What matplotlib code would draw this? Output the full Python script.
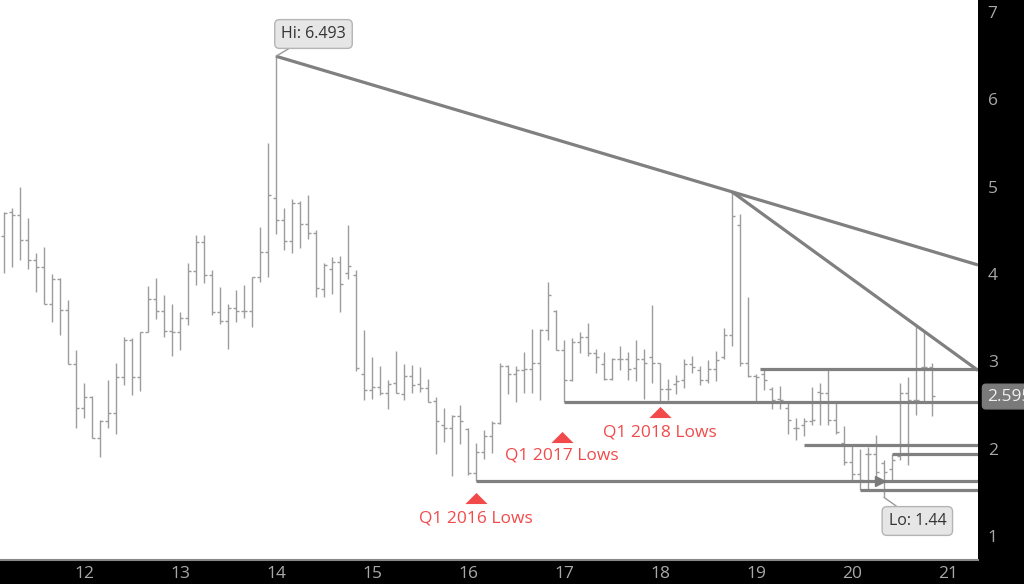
import numpy as np
import matplotlib
matplotlib.use("Agg")
import matplotlib.pyplot as plt
from matplotlib.path import Path

plt.rcParams['font.family'] = ['Open Sans', 'DejaVu Sans']

# Monthly OHLC bars, first bar = April 2011
opens = [4.43, 4.71, 4.67, 4.39, 4.16, 4.08, 3.66, 3.94, 3.59, 2.97,
         2.46, 2.59, 2.12, 2.31, 2.41, 2.82, 3.24, 2.82, 3.34, 3.71,
         3.58, 3.35, 3.34, 3.50, 4.03, 4.36, 3.99, 3.56, 3.46, 3.61,
         3.57, 3.58, 3.96, 4.25, 4.87, 4.62, 4.38, 4.81, 4.57, 4.47,
         3.83, 4.06, 4.14, 4.01, 3.99, 2.85, 2.67, 2.71, 2.64, 2.75,
         2.62, 2.83, 2.74, 2.69, 2.54, 2.27, 2.24, 2.37, 2.22, 1.72,
         1.96, 2.14, 2.29, 2.95, 2.85, 2.90, 2.91, 2.98, 3.36, 3.58,
         3.13, 2.78, 3.22, 3.28, 3.09, 2.97, 2.80, 3.03, 3.03, 2.92,
         3.03, 3.05, 2.98, 2.68, 2.74, 2.78, 2.97, 2.90, 2.79, 2.91,
         3.05, 3.30, 4.56, 2.98, 2.83, 2.85, 2.68, 2.57, 2.46, 2.24,
         2.27, 2.32, 2.65, 2.64, 2.33, 2.06, 1.85, 1.71, 1.94, 1.94,
         1.83, 1.76, 1.91, 2.64, 2.56, 2.93, 2.93]
highs = [4.71, 4.75, 5.00, 4.64, 4.24, 4.31, 4.00, 3.95, 3.70, 3.13,
         2.75, 2.60, 2.33, 2.78, 2.98, 3.28, 3.26, 3.34, 3.86, 3.95,
         3.76, 3.65, 3.56, 4.13, 4.45, 4.45, 4.05, 3.85, 3.66, 3.82,
         3.87, 3.97, 4.54, 5.50, 6.493, 4.75, 4.86, 4.84, 4.90, 4.50,
         4.12, 4.19, 4.20, 4.56, 4.04, 3.36, 3.05, 2.94, 2.78, 3.12,
         2.97, 2.96, 2.93, 2.80, 2.59, 2.46, 2.38, 2.50, 2.23, 2.06,
         2.21, 2.31, 2.98, 2.96, 2.95, 3.10, 3.37, 3.37, 3.91, 3.59,
         3.24, 3.26, 3.34, 3.44, 3.14, 3.11, 3.04, 3.17, 3.11, 3.24,
         3.14, 3.64, 2.98, 2.80, 2.84, 3.02, 3.06, 2.94, 3.01, 3.12,
         3.38, 4.94, 4.69, 3.74, 2.85, 2.91, 2.71, 2.72, 2.52, 2.35,
         2.35, 2.71, 2.75, 2.91, 2.52, 2.26, 2.03, 2.00, 2.02, 2.15,
         1.87, 1.94, 2.75, 2.82, 3.41, 3.36, 2.98]
lows = [4.01, 4.08, 4.16, 4.06, 3.79, 3.66, 3.45, 3.30, 2.97, 2.24,
        2.35, 2.12, 1.90, 2.24, 2.17, 2.73, 2.61, 2.66, 3.34, 3.48,
        3.28, 3.06, 3.13, 3.41, 3.87, 3.89, 3.53, 3.43, 3.14, 3.45,
        3.49, 3.39, 3.91, 3.96, 4.46, 4.27, 4.24, 4.30, 4.40, 3.74,
        3.73, 3.77, 3.56, 3.94, 2.89, 2.55, 2.57, 2.61, 2.45, 2.64,
        2.56, 2.64, 2.65, 2.53, 1.94, 2.07, 1.68, 2.05, 1.70, 1.63,
        1.88, 1.95, 2.28, 2.63, 2.53, 2.64, 2.64, 2.56, 3.24, 3.13,
        2.53, 2.77, 3.09, 3.06, 2.86, 2.78, 2.78, 2.90, 2.79, 2.77,
        2.57, 2.75, 2.53, 2.56, 2.63, 2.69, 2.87, 2.73, 2.75, 2.77,
        3.02, 3.17, 2.94, 2.82, 2.54, 2.67, 2.45, 2.45, 2.17, 2.10,
        2.14, 2.27, 2.27, 2.27, 2.17, 1.81, 1.64, 1.52, 1.54, 1.62,
        1.44, 1.62, 1.87, 1.81, 2.38, 2.54, 2.37]
closes = [4.70, 4.67, 4.39, 4.16, 4.08, 3.66, 3.94, 3.59, 2.97, 2.46,
          2.59, 2.12, 2.31, 2.41, 2.82, 3.24, 2.82, 3.34, 3.71, 3.58,
          3.35, 3.34, 3.50, 4.03, 4.36, 3.99, 3.56, 3.46, 3.61, 3.57,
          3.58, 3.96, 4.25, 4.90, 4.62, 4.38, 4.81, 4.57, 4.47, 3.84,
          4.10, 4.14, 3.88, 4.09, 2.92, 2.67, 2.71, 2.64, 2.74, 2.64,
          2.83, 2.73, 2.69, 2.53, 2.31, 2.24, 2.37, 2.31, 1.72, 1.96,
          2.14, 2.29, 2.95, 2.85, 2.90, 2.91, 2.98, 3.36, 3.76, 3.13,
          2.78, 3.22, 3.28, 3.09, 3.05, 2.80, 3.03, 3.03, 2.91, 3.03,
          2.98, 2.98, 2.68, 2.68, 2.77, 2.97, 2.93, 2.79, 2.91, 3.01,
          3.30, 4.66, 2.98, 2.83, 2.82, 2.78, 2.56, 2.56, 2.33, 2.23,
          2.32, 2.33, 2.64, 2.33, 2.19, 1.85, 1.71, 1.64, 1.94, 1.73,
          1.73, 1.87, 2.64, 2.56, 2.56, 2.93, 2.60]

first_year, first_month = 2011, 4
year_labels = ["12", "13", "14", "15", "16", "17", "18", "19", "20", "21"]
y_ticks = [1, 2, 3, 4, 5, 6, 7]
last_price = 2.595

# horizontal support lines: (start bar, level)
support_starts = [60, 71, 95.5, 101, 108, 112]
support_levels = [1.63, 2.53, 2.91, 2.04, 1.52, 1.94]
low_labels = ["Q1 2016 Lows", "Q1 2017 Lows", "Q1 2018 Lows"]

n = len(opens)
idx = np.arange(1, n + 1)

fig = plt.figure(figsize=(10.24, 5.84), dpi=100, facecolor='black')
ax = fig.add_axes([0, 24 / 584, 978 / 1024, 560 / 584])
ax.set_facecolor('white')
xmax = 122.75
ax.set_xlim(0.5, xmax)
ax.set_ylim(0.723, 7.137)

bar_c = '#9c9c9c'
ax.vlines(idx, lows, highs, color=bar_c, lw=1.0, zorder=2)
ax.hlines(opens, idx - 0.42, idx, color=bar_c, lw=1.0, zorder=2)
ax.hlines(closes, idx, idx + 0.42, color=bar_c, lw=1.0, zorder=2)

line_c = '#808080'
# trendlines
hi_i = int(np.argmax(highs)) + 1
p2_i = 92
p3_i = 115
for a, b in [(hi_i, p2_i), (p2_i, p3_i)]:
    ya, yb = highs[a - 1], highs[b - 1]
    slope = (yb - ya) / (b - a)
    ax.plot([a, xmax], [ya, ya + slope * (xmax - a)], color=line_c, lw=2.3,
            solid_capstyle='butt', zorder=3)

for s, lv in zip(support_starts, support_levels):
    ax.hlines(lv, s, xmax, color=line_c, lw=2.3, zorder=3)

ax.plot([110.5], [1.63], marker='>', color='#7a7a7a', ms=7, zorder=4)

# red triangles + labels
red = '#f24a4a'
tri = Path([(-1, -0.5), (1, -0.5), (0, 0.5), (-1, -0.5)],
           [Path.MOVETO, Path.LINETO, Path.LINETO, Path.CLOSEPOLY])
tri_pos = [(60, 1.43), (70.75, 2.13), (83, 2.42)]
txt_pos = [(60, 1.20), (70.75, 1.92), (83, 2.18)]
for (tx, ty), (lx, ly), lab in zip(tri_pos, txt_pos, low_labels):
    ax.plot([tx], [ty], marker=tri, ms=16, color=red, mec='none', zorder=5)
    ax.text(lx, ly, lab, color=red, fontsize=12.5, ha='center', va='center',
            zorder=5)

box = dict(boxstyle='round,pad=0.4,rounding_size=0.3', fc='#e6e6e6',
           ec='#b4b4b4', lw=1)
ax.annotate(f"Hi: {max(highs):.3f}", xy=(hi_i, max(highs)), xytext=(27, 16),
            textcoords='offset points', ha='center', va='center',
            fontsize=11.5, color='#333333', bbox=box,
            arrowprops=dict(arrowstyle='-', color='#999999', lw=1,
                            shrinkA=0, shrinkB=0), zorder=6)
lo_i = int(np.argmin(lows)) + 1
ax.annotate(f"Lo: {min(lows):.2f}", xy=(lo_i, min(lows)), xytext=(24, -17),
            textcoords='offset points', ha='center', va='center',
            fontsize=11.5, color='#333333', bbox=box,
            arrowprops=dict(arrowstyle='-', color='#999999', lw=1,
                            shrinkA=0, shrinkB=0), zorder=6)

# axes styling
for sp in ['top', 'left', 'right']:
    ax.spines[sp].set_visible(False)
ax.spines['bottom'].set_color('#888888')
ax.spines['bottom'].set_linewidth(1.5)

xt = [(int("20" + y) - first_year) * 12 - (first_month - 1) + 2 for y in year_labels]
ax.set_xticks(xt)
ax.set_xticklabels(year_labels)
ax.set_yticks(y_ticks)
ax.set_yticklabels([str(v) for v in y_ticks])
ax.yaxis.tick_right()
ax.tick_params(axis='both', length=0, colors='#a8a8a8', labelsize=12.5)
ax.tick_params(axis='y', pad=7)
ax.tick_params(axis='x', pad=4)

ax.text(1.009, last_price, f"{last_price:.3f}", transform=ax.get_yaxis_transform(),
        ha='left', va='center', fontsize=12.5, color='#f0f0f0', clip_on=False,
        bbox=dict(boxstyle='round,pad=0.25,rounding_size=0.2', fc='#7a7a7a',
                  ec='#7a7a7a'), zorder=7)

fig.savefig('out.png', dpi=100, facecolor='black')
